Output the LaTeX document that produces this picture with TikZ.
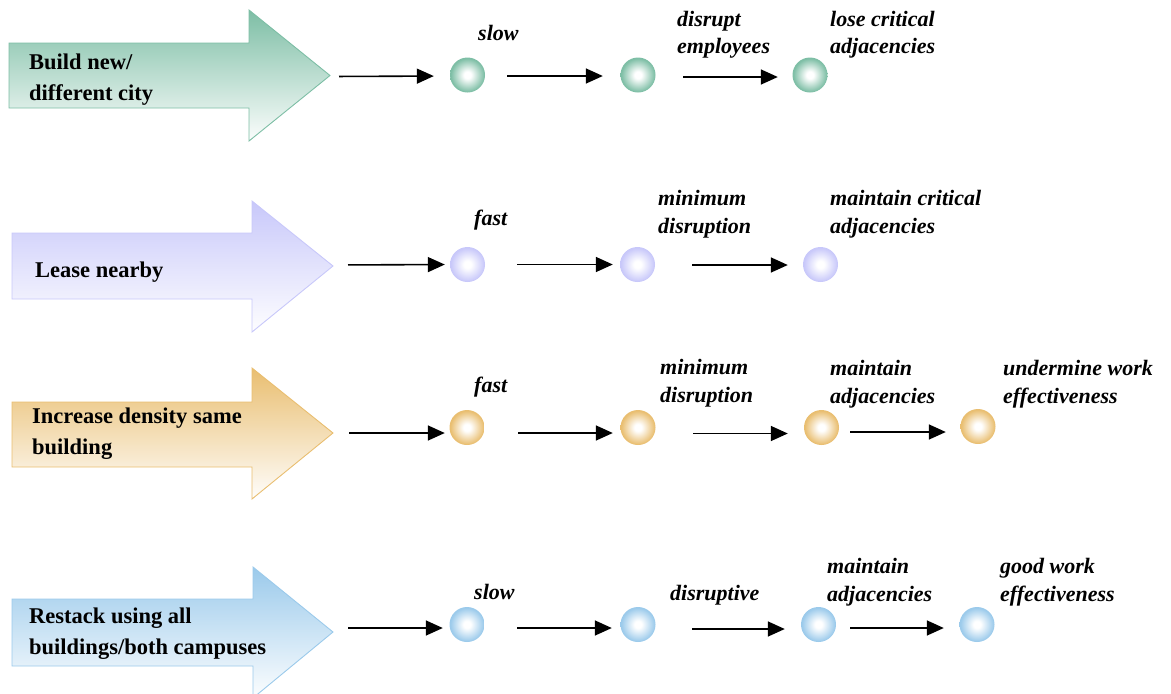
\documentclass[tikz,border=0pt]{standalone}
\usepackage{fontspec}
\setmainfont{Liberation Serif}
\usetikzlibrary{arrows.meta}
\definecolor{cteal}{RGB}{125,190,165}
\definecolor{clav}{RGB}{200,200,250}
\definecolor{cgold}{RGB}{233,190,112}
\definecolor{cblue}{RGB}{155,202,235}
\colorlet{ballc}{cteal}
\pgfdeclareradialshading[ballc]{softball}{\pgfpoint{0bp}{0bp}}{color(0bp)=(white); color(5bp)=(white); color(24bp)=(ballc); color(50bp)=(ballc)}
\begin{document}
\begin{tikzpicture}[x=1pt,y=-1pt,
  conn/.style={line width=1.6pt, -{Triangle[length=17pt,width=15pt]}},
  ball/.style={circle, minimum size=35pt, inner sep=0pt, /utils/exec={\colorlet{ballc}{#1}}, shading=softball},
  bigarrow/.style={draw=#1, line width=0.9pt, top color=#1, bottom color=#1!3!white},
  title/.style={anchor=base west, align=left, font=\bfseries\fontsize{22.5}{30.5}\selectfont, inner sep=0pt},
  lab/.style={anchor=base west, align=left, font=\bfseries\itshape\fontsize{22}{27.5}\selectfont, inner sep=0pt}]
\useasboundingbox (0,0) rectangle (1171,694);
\clip (0,0) rectangle (1171,694);

% ---------- row 1 ----------
\path[bigarrow=cteal] (9,43) -- (249,43) -- (249,10) -- (330,75.5) -- (249,141) -- (249,108) -- (9,108) -- cycle;
\coordinate (t1) at (330,75.5);
\node[title] (a1) at (29,100) {Build new/\\different city};
\node[ball=cteal] (c11) at (467.5,75) {};
\node[ball=cteal] (c12) at (638,75) {};
\node[ball=cteal] (c13) at (810,75) {};
\draw[conn, shorten <=9pt, shorten >=16pt] ([yshift=-1pt]t1) -- ([yshift=-1pt]c11.west);
\draw[conn, shorten <=22pt, shorten >=17.5pt] ([yshift=-1pt]c11.east) -- ([yshift=-1pt]c12.west);
\draw[conn, shorten <=27.5pt, shorten >=14.5pt] ([yshift=-2pt]c12.east) -- ([yshift=-2pt]c13.west);
\node[lab] (l11) at (478,40) {slow};
\node[lab] (l12) at (677,53.5) {disrupt\\employees};
\node[lab] (l13) at (830,53.5) {lose critical\\adjacencies};

% ---------- row 2 ----------
\path[bigarrow=clav] (12,233) -- (252,233) -- (252,201) -- (333,266) -- (252,332) -- (252,299) -- (12,299) -- cycle;
\coordinate (t2) at (333,265);
\node[title] (a2) at (35,277) {Lease nearby};
\node[ball=clav] (c21) at (467.5,264.5) {};
\node[ball=clav] (c22) at (637.5,264.5) {};
\node[ball=clav] (c23) at (820.5,264.5) {};
\draw[conn, shorten <=15pt, shorten >=5pt] (t2) -- (c21.west);
\draw[conn, shorten <=32pt, shorten >=7pt] (c21.east) -- (c22.west);
\draw[conn, shorten <=37pt, shorten >=15pt] ([yshift=-0.5pt]c22.east) -- ([yshift=-0.5pt]c23.west);
\node[lab] (l21) at (474,225) {fast};
\node[lab] (l22) at (658,233) {minimum\\disruption};
\node[lab] (l23) at (830,233) {maintain critical\\adjacencies};

% ---------- row 3 ----------
\path[bigarrow=cgold] (12,402) -- (252,402) -- (252,368) -- (333,433) -- (252,499) -- (252,467) -- (12,467) -- cycle;
\coordinate (t3) at (333,433);
\node[title] (a3) at (32,454) {Increase density same\\building};
\node[ball=cgold] (c31) at (467,427.5) {};
\node[ball=cgold] (c32) at (638,427.5) {};
\node[ball=cgold] (c33) at (821.5,427.5) {};
\node[ball=cgold] (c34) at (978,426.5) {};
\draw[conn, shorten <=16pt, shorten >=4.5pt] (t3) -- ([yshift=-5.5pt]c31.west);
\draw[conn, shorten <=33.5pt, shorten >=7.5pt] ([yshift=-5.5pt]c31.east) -- ([yshift=-5.5pt]c32.west);
\draw[conn, shorten <=37.5pt, shorten >=16pt] ([yshift=-6pt]c32.east) -- ([yshift=-6pt]c33.west);
\draw[conn, shorten <=11pt, shorten >=14.5pt] ([yshift=-4.5pt]c33.east) -- ([yshift=-5.5pt]c34.west);
\node[lab] (l31) at (474,392) {fast};
\node[lab] (l32) at (660,402) {minimum\\disruption};
\node[lab] (l33) at (830,403) {maintain\\adjacencies};
\node[lab] (l34) at (1003,403) {undermine work\\effectiveness};

% ---------- row 4 ----------
\path[bigarrow=cblue] (12,599) -- (253,599) -- (253,567) -- (333,632) -- (253,698) -- (253,666) -- (12,666) -- cycle;
\coordinate (t4) at (333,628);
\node[title] (a4) at (29,654) {Restack using all\\buildings/both campuses};
\node[ball=cblue] (c41) at (467,624.5) {};
\node[ball=cblue] (c42) at (638,624.5) {};
\node[ball=cblue] (c43) at (818.5,624.5) {};
\node[ball=cblue] (c44) at (977,624.5) {};
\draw[conn, shorten <=15pt, shorten >=6.5pt] (t4) -- ([yshift=-3.5pt]c41.west);
\draw[conn, shorten <=32.5pt, shorten >=8.5pt] ([yshift=-3.5pt]c41.east) -- ([yshift=-3.5pt]c42.west);
\draw[conn, shorten <=36.5pt, shorten >=16pt] ([yshift=-4.5pt]c42.east) -- ([yshift=-4.5pt]c43.west);
\draw[conn, shorten <=14pt, shorten >=15.5pt] ([yshift=-3.5pt]c43.east) -- ([yshift=-3.5pt]c44.west);
\node[lab] (l41) at (474,599) {slow};
\node[lab] (l42) at (670,600) {disruptive};
\node[lab] (l43) at (827,601) {maintain\\adjacencies};
\node[lab] (l44) at (1000,601) {good work\\effectiveness};
\end{tikzpicture}
\end{document}
